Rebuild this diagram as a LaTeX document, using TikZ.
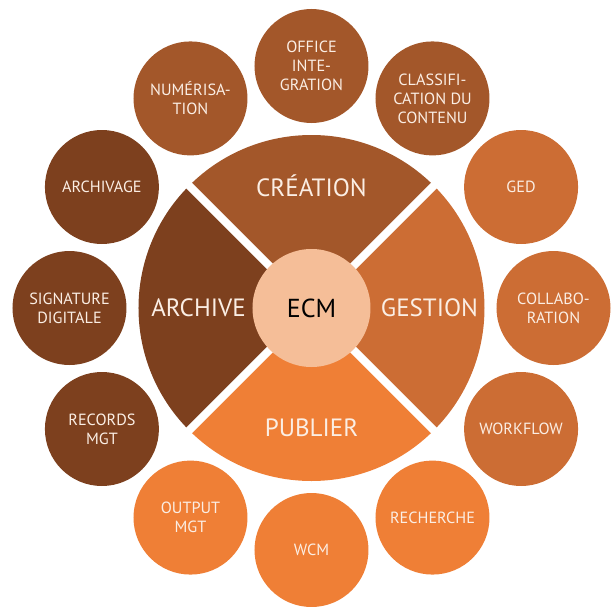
\documentclass[tikz,border=0pt]{standalone}
\usepackage{fontspec}
\setmainfont{PT Sans}
\definecolor{crea}{HTML}{A3572A}
\definecolor{arch}{HTML}{7D401E}
\definecolor{gest}{HTML}{CC6D34}
\definecolor{publ}{HTML}{EF7F36}
\definecolor{core}{HTML}{F5BE98}
\definecolor{txt}{HTML}{FBEEE4}
\begin{document}
\begin{tikzpicture}[x=1pt,y=1pt]

      \tikzset{bubble/.style={circle, inner sep=0pt, minimum size=114pt, text=txt, align=center, font=\fontsize{16.2}{19}\selectfont}}
      \tikzset{big/.style={text=txt, font=\fontsize{25}{30}\selectfont}}
      \useasboundingbox (-311.5,-298) rectangle (299.5,308);
% Ring
      	\fill[crea] (0,0) -- (45:173pt) arc[start angle=45, end angle=135, radius=173pt] -- cycle;
      	\fill[arch] (0,0) -- (135:173pt) arc[start angle=135, end angle=225, radius=173pt] -- cycle;
      	\fill[publ] (0,0) -- (225:173pt) arc[start angle=225, end angle=315, radius=173pt] -- cycle;
      	\fill[gest] (0,0) -- (315:173pt) arc[start angle=315, end angle=405, radius=173pt] -- cycle;
      	\draw[white, line width=8pt] (45:180pt) -- (225:180pt);
      	\draw[white, line width=8pt] (135:180pt) -- (315:180pt);
      	\node[circle, fill=core, minimum size=118pt, inner sep=0pt, font=\fontsize{26}{30}\selectfont] (ecm) at (0,0) {ECM};
      	\node[big] (crea) at (0,122) {CRÉATION};
      	\node[big] (arch) at (-113,0) {ARCHIVE};
      	\node[big] (gest) at (118,0) {GESTION};
      	\node[big] (publ) at (0,-120) {PUBLIER};
% Bubbles
      	\node[bubble, fill=crea] (b1) at (90:242pt) {OFFICE\\INTE-\\GRATION};
      	\node[bubble, fill=crea] (b2) at (60:242pt) {CLASSIFI-\\CATION DU\\CONTENU};
      	\node[bubble, fill=gest] (b3) at (30:242pt) {GED};
      	\node[bubble, fill=gest] (b4) at (0:242pt) {COLLABO-\\RATION};
      	\node[bubble, fill=gest] (b5) at (-30:242pt) {WORKFLOW};
      	\node[bubble, fill=publ] (b6) at (-60:242pt) {RECHERCHE};
      	\node[bubble, fill=publ] (b7) at (-90:242pt) {WCM};
      	\node[bubble, fill=publ] (b8) at (-120:242pt) {OUTPUT\\MGT};
      	\node[bubble, fill=arch] (b9) at (-150:242pt) {RECORDS\\MGT};
      	\node[bubble, fill=arch] (b10) at (180:242pt) {SIGNATURE\\DIGITALE};
      	\node[bubble, fill=arch] (b11) at (150:242pt) {ARCHIVAGE};
      	\node[bubble, fill=crea] (b12) at (120:242pt) {NUMÉRISA-\\TION};

	\end{tikzpicture}
\end{document}
